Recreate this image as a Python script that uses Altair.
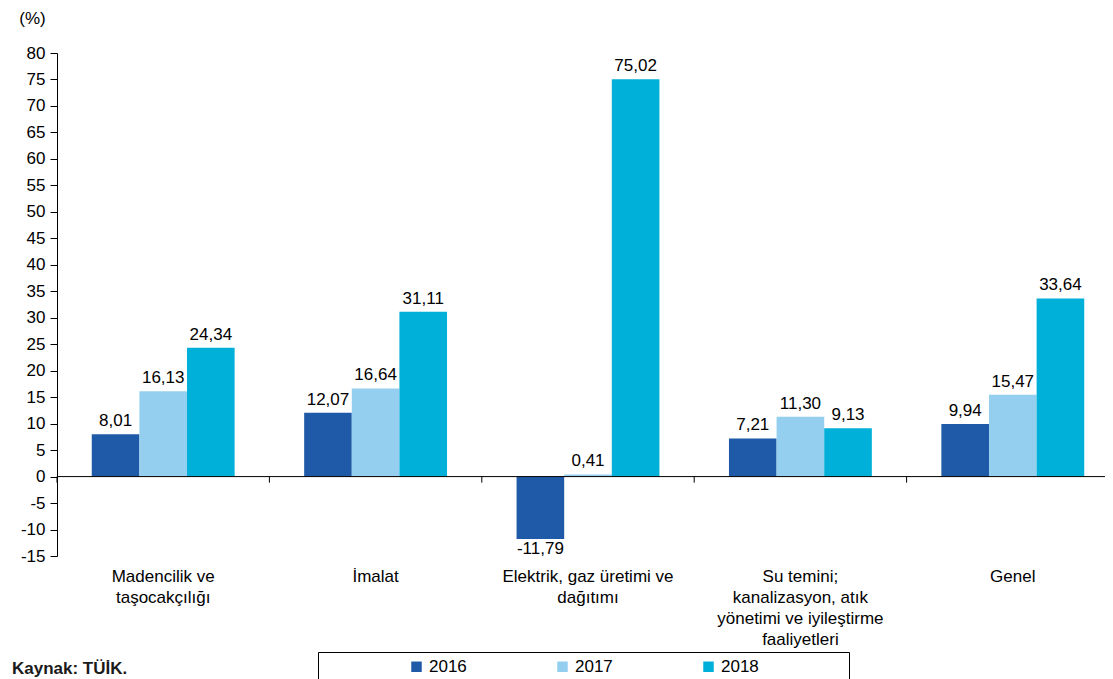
import altair as alt
import pandas as pd

FONT = "Liberation Sans"
BLANK = "\u2800"
MINUS = "\u2212"

categories = [
    "Madencilik ve|taşocakçılığı",
    "İmalat",
    "Elektrik, gaz üretimi ve|dağıtımı",
    "Su temini;|kanalizasyon, atık|yönetimi ve iyileştirme|faaliyetleri",
    "Genel",
]
years = ["2016", "2017", "2018"]
v2016 = [8.01, 12.07, -11.79, 7.21, 9.94]
v2017 = [16.13, 16.64, 0.41, 11.30, 15.47]
v2018 = [24.34, 31.11, 75.02, 9.13, 33.64]
colors = ["#1F5AA8", "#94CFEF", "#00B0D9"]
y_ticks = list(range(-15, 81, 5))
y_domain = [-15, 80]
unit_label = "(%)"
source = "Kaynak: TÜİK."

rows = []
for yr, vals in zip(years, [v2016, v2017, v2018]):
    for c, v in zip(categories, vals):
        rows.append({"cat": c, "year": yr, "value": v})
df = pd.DataFrame(rows)

x_axis = alt.Axis(
    title=None,
    labelExpr="split(datum.label, '|')",
    labelAngle=0,
    domain=False,
    ticks=False,
    tickSize=0,
    labelPadding=12,
    labelFontSize=17,
    labelLineHeight=21,
    labelColor="#000000",
    labelFont=FONT,
    labelLimit=400,
)
# the category scale runs slightly past the visible page edge, as in the original
x_scale = alt.Scale(paddingInner=0, paddingOuter=0, range=[0, 1062])
x_enc = alt.X("cat:N", sort=categories, scale=x_scale, axis=x_axis)
xoff_enc = alt.XOffset(
    "year:N", sort=years, scale=alt.Scale(paddingInner=0, paddingOuter=0.73)
)
y_scale = alt.Scale(domain=y_domain, nice=False, zero=False)
y_axis = alt.Axis(
    title=unit_label,
    titleAngle=0,
    titleX=-25,
    titleY=-35,
    titleAlign="center",
    titleBaseline="middle",
    titleFontSize=17,
    titleFontWeight="normal",
    titleColor="#000000",
    titleFont=FONT,
    values=y_ticks,
    labelExpr="replace(datum.label, '" + MINUS + "', '-')",
    labelFontSize=17,
    labelColor="#000000",
    labelFont=FONT,
    labelPadding=5,
    labelFlush=False,
    labelOverlap=False,
    domainColor="#000000",
    tickColor="#000000",
    tickSize=7,
    grid=False,
)
y_enc = alt.Y("value:Q", scale=y_scale, axis=y_axis)

legend = alt.Legend(
    title=BLANK * 7,
    titleOrient="left",
    titlePadding=0,
    titleFontSize=16.2,
    orient="none",
    legendX=261,
    legendY=599,
    direction="horizontal",
    symbolType="square",
    symbolSize=110,
    symbolStrokeWidth=0,
    labelFontSize=17,
    labelFont=FONT,
    labelColor="#000000",
    labelOffset=4,
    columnPadding=87,
    strokeColor="#000000",
    padding=6,
    labelLimit=300,
    labelExpr="datum.label == '2018' ? datum.label + '" + BLANK * 7 + "' : datum.label",
)

base = alt.Chart(df).transform_calculate(
    label="replace(replace(format(datum.value, '.2f'), '.', ','), '" + MINUS + "', '-')"
)

bars = base.mark_bar().encode(
    x=x_enc,
    xOffset=xoff_enc,
    y=y_enc,
    color=alt.Color("year:N", scale=alt.Scale(domain=years, range=colors), legend=legend),
)

pos_labels = (
    base.transform_filter("datum.value >= 0")
    .mark_text(baseline="alphabetic", dy=-8, fontSize=17, font=FONT, color="#000000")
    .encode(x=x_enc, xOffset=xoff_enc, y=y_enc, text="label:N")
)
neg_labels = (
    base.transform_filter("datum.value < 0")
    .mark_text(baseline="middle", dy=10, fontSize=17, font=FONT, color="#000000")
    .encode(x=x_enc, xOffset=xoff_enc, y=y_enc, text="label:N")
)

zero_line = (
    alt.Chart(pd.DataFrame({"value": [0]}))
    .mark_rule(color="#000000", strokeWidth=1)
    .encode(y=y_enc)
)

group_ticks = (
    alt.Chart(pd.DataFrame({"cat": categories}))
    .mark_rule(color="#000000", strokeWidth=1)
    .encode(
        x=alt.X("cat:N", sort=categories, bandPosition=0, scale=x_scale, axis=x_axis),
        y=alt.YDatum(0, scale=y_scale, axis=y_axis),
        y2=alt.Y2Datum(-1.15),
    )
)

source_text = (
    alt.Chart(pd.DataFrame({"t": [source]}))
    .mark_text(align="left", baseline="middle", fontSize=17, fontWeight="bold",
               font=FONT, color="#1a1a1a")
    .encode(x=alt.value(-45), y=alt.value(616), text="t:N")
)

chart = (
    alt.layer(bars, pos_labels, neg_labels, zero_line, group_ticks, source_text)
    .properties(
        width=1048,
        height=503,
        autosize=alt.AutoSizeParams(type="none"),
        padding={"left": 49, "top": 45, "right": 0, "bottom": 123},
    )
    .configure(font=FONT)
    .configure_view(stroke=None)
)

chart.save("out.html", embed_options={"renderer": "svg", "actions": False})
